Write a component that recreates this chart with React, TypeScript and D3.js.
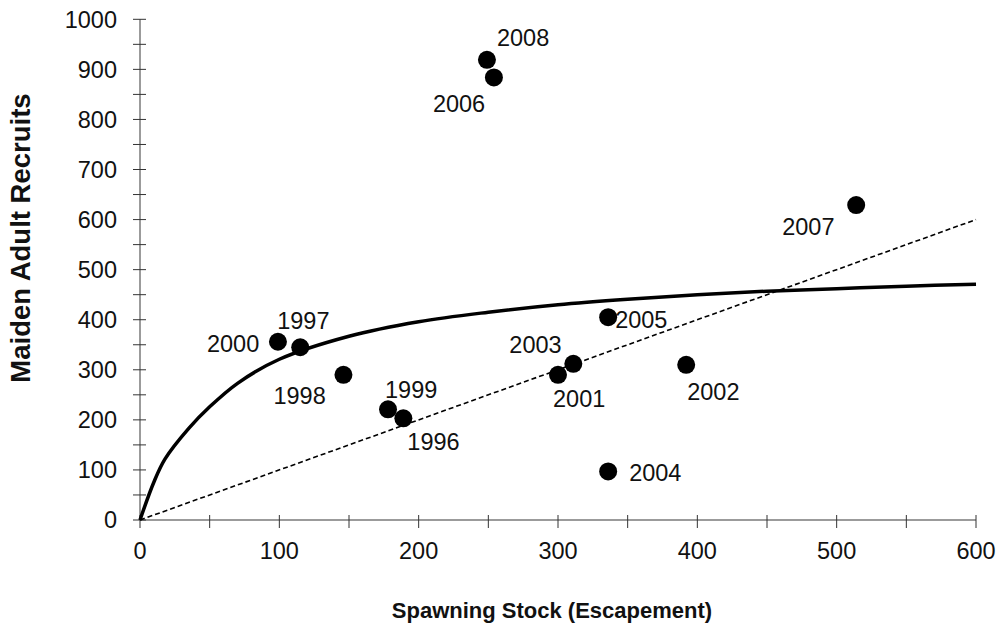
import * as d3 from "d3";

const years = ["1996", "1997", "1998", "1999", "2000", "2001", "2002", "2003", "2004", "2005", "2006", "2007", "2008"];
const spawners = [189, 115, 146, 178, 99, 300, 392, 311, 336, 336, 254, 514, 249];
const recruits = [203, 345, 290, 221, 356, 290, 310, 312, 97, 405, 884, 629, 919];

// fitted stock-recruit curve
const curveS = [0, 10, 18, 35, 50, 70, 100, 150, 200, 250, 300, 350, 400, 450, 500, 550, 600];
const curveR = [0, 76, 122, 183, 226, 273, 321, 367, 396, 415, 430, 441, 450, 457, 462, 467, 471];

// replacement line
const replacementS = [0, 600];

const xTicks = [0, 100, 200, 300, 400, 500, 600];
const yTicks = [0, 100, 200, 300, 400, 500, 600, 700, 800, 900, 1000];

// label placement relative to each marker (px)
const labelOffset: Record<string, [number, number]> = {
  "1996": [4, 32],
  "1997": [-23, -18],
  "1998": [-70, 29],
  "1999": [-3, -11],
  "2000": [-71, 10],
  "2001": [-5, 32],
  "2002": [1, 35],
  "2003": [-64, -11],
  "2004": [21, 10],
  "2005": [7, 11],
  "2006": [-61, 35],
  "2007": [-74, 30],
  "2008": [10, -14],
};

const W = 1001;
const H = 636;
const font = "Arial, 'Liberation Sans', sans-serif";

export default function App() {
  const x = d3.scaleLinear().domain([0, 600]).range([140, 976]);
  const y = d3.scaleLinear().domain([0, 1000]).range([520, 19.3]);

  const curvePath = d3
    .line<number>()
    .x((_, i) => x(curveS[i]))
    .y((d) => y(d))
    .curve(d3.curveCatmullRom.alpha(0.5))(curveR);

  const replacePath = d3
    .line<number>()
    .x((d) => x(d))
    .y((d) => y(d))(replacementS);

  const minorX = d3.range(0, 601, 50);
  const minorY = d3.range(0, 1001, 50);
  const axisColor = "#7a7a7a";

  return (
    <svg
      width={W}
      height={H}
      style={{ position: "absolute", left: 0, top: 0, background: "#fff" }}
      fontFamily={font}
    >
      <rect width={W} height={H} fill="#fff" />

      {/* axes */}
      <line x1={x(0)} x2={x(600)} y1={y(0)} y2={y(0)} stroke={axisColor} strokeWidth={1.5} />
      <line x1={x(0)} x2={x(0)} y1={y(0)} y2={y(1000)} stroke={axisColor} strokeWidth={1.5} />
      {minorX.map((t) => (
        <line key={"xt" + t} x1={x(t)} x2={x(t)} y1={y(0) - 5} y2={y(0) + 8} stroke="#333" strokeWidth={1} />
      ))}
      {minorY.map((t) => (
        <line key={"yt" + t} x1={x(0) - 7} x2={x(0) + 6} y1={y(t)} y2={y(t)} stroke="#333" strokeWidth={1} />
      ))}
      {xTicks.map((t) => (
        <text key={"xl" + t} x={x(t)} y={559} textAnchor="middle" fontSize={23.5} fill="#111">
          {t}
        </text>
      ))}
      {yTicks.map((t) => (
        <text key={"yl" + t} x={117} y={y(t)} dy="0.35em" textAnchor="end" fontSize={23.5} fill="#111">
          {t}
        </text>
      ))}

      {/* lines */}
      <path d={replacePath ?? ""} fill="none" stroke="#000" strokeWidth={1.6} strokeDasharray="5,3" />
      <path d={curvePath ?? ""} fill="none" stroke="#000" strokeWidth={3.5} />

      {/* points */}
      {years.map((yr, i) => (
        <g key={yr}>
          <circle cx={x(spawners[i])} cy={y(recruits[i])} r={9} fill="#000" />
          <text
            x={x(spawners[i]) + labelOffset[yr][0]}
            y={y(recruits[i]) + labelOffset[yr][1]}
            fontSize={23.5}
            fill="#111"
          >
            {yr}
          </text>
        </g>
      ))}

      {/* titles */}
      <text x={552} y={618} textAnchor="middle" fontSize={22} fontWeight="bold" fill="#111">
        Spawning Stock (Escapement)
      </text>
      <text
        transform="translate(30,238) rotate(-90)"
        textAnchor="middle"
        fontSize={27.5}
        fontWeight="bold"
        fill="#111"
      >
        Maiden Adult Recruits
      </text>
    </svg>
  );
}
